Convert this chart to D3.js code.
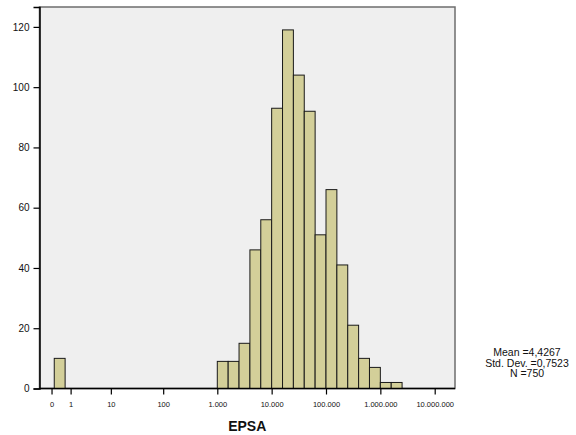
<!DOCTYPE html>
<html><head><meta charset="utf-8">
<script src="https://cdn.jsdelivr.net/npm/d3@7"></script>
<style>body{margin:0;background:#fff}svg{display:block}text{font-family:"Liberation Sans",Arial,sans-serif}</style>
</head><body>
<svg id="c" width="576" height="435"></svg>
<script>
// bins in log10(EPSA) units
const binStarts = [0.0, 3.0, 3.2, 3.4, 3.6, 3.8, 4.0, 4.2, 4.4, 4.6, 4.8, 5.0, 5.2, 5.4, 5.6, 5.8, 6.0, 6.2];
const counts    = [10, 9, 9, 15, 46, 56, 93, 119, 104, 92, 51, 66, 41, 21, 10, 7, 2, 2];
const binWidth = 0.2;
const xTickValues = [-0.05, Math.log10(2), Math.log10(11), Math.log10(101), 3, 4, 5, 6, 7];
const xTickLabels = ["0", "1", "10", "100", "1.000", "10.000", "100.000", "1.000.000", "10.000.000"];
const yTickValues = [0, 20, 40, 60, 80, 100, 120];
const statsLines = ["Mean =4,4267", "Std. Dev. =0,7523", "N =750"];
const xTitle = "EPSA";

const svg = d3.select("#c");
const L = 39.5, R = 455, T = 7, B = 388.5;
const x = d3.scaleLinear().domain([-0.2714, 7.3735]).range([L, R]);
const y = d3.scaleLinear().domain([0, 126.6]).range([B, T]);

svg.append("rect").attr("x", L).attr("y", T).attr("width", R - L).attr("height", B - T)
  .attr("fill", "#efefef").attr("stroke", "#6e6e6e").attr("stroke-width", 1.5);

svg.append("g").selectAll("rect").data(binStarts).join("rect")
  .attr("x", (d) => x(d)).attr("width", (d) => x(d + binWidth) - x(d))
  .attr("y", (d, i) => y(counts[i])).attr("height", (d, i) => y(0) - y(counts[i]))
  .attr("fill", "#d3cf99").attr("stroke", "#1a1a1a").attr("stroke-width", 1);

const yAxis = svg.append("g").attr("transform", `translate(${L},0)`)
  .call(d3.axisLeft(y).tickValues(yTickValues).tickSize(6).tickPadding(4).tickFormat(d3.format("d")));
yAxis.select(".domain").attr("stroke", "#000").attr("stroke-width", 1.5);
yAxis.selectAll(".tick line").attr("stroke", "#000").attr("stroke-width", 1.2);
yAxis.selectAll("text").attr("font-size", 10).attr("fill", "#111").attr("font-family", "Liberation Sans, Arial, sans-serif");

const xAxis = svg.append("g").attr("transform", `translate(0,${B})`)
  .call(d3.axisBottom(x).tickValues(xTickValues).tickSize(6).tickPadding(7)
    .tickFormat((d, i) => xTickLabels[i]));
xAxis.select(".domain").attr("d", `M${L},0H${R}`).attr("stroke", "#000").attr("stroke-width", 1.5);
xAxis.selectAll(".tick line").attr("stroke", "#000").attr("stroke-width", 1.2);
xAxis.selectAll("text").attr("font-size", 7.5).attr("fill", "#111").attr("font-family", "Liberation Sans, Arial, sans-serif");

svg.append("text").attr("x", (L + R) / 2).attr("y", 431).attr("text-anchor", "middle")
  .attr("font-size", 14).attr("font-weight", "bold").attr("fill", "#111").text(xTitle);

svg.append("g").selectAll("text").data(statsLines).join("text")
  .attr("x", 527).attr("y", (d, i) => 356 + i * 10.5).attr("text-anchor", "middle")
  .attr("font-size", 10.5).attr("fill", "#111").text((d) => d);
</script>
</body></html>
